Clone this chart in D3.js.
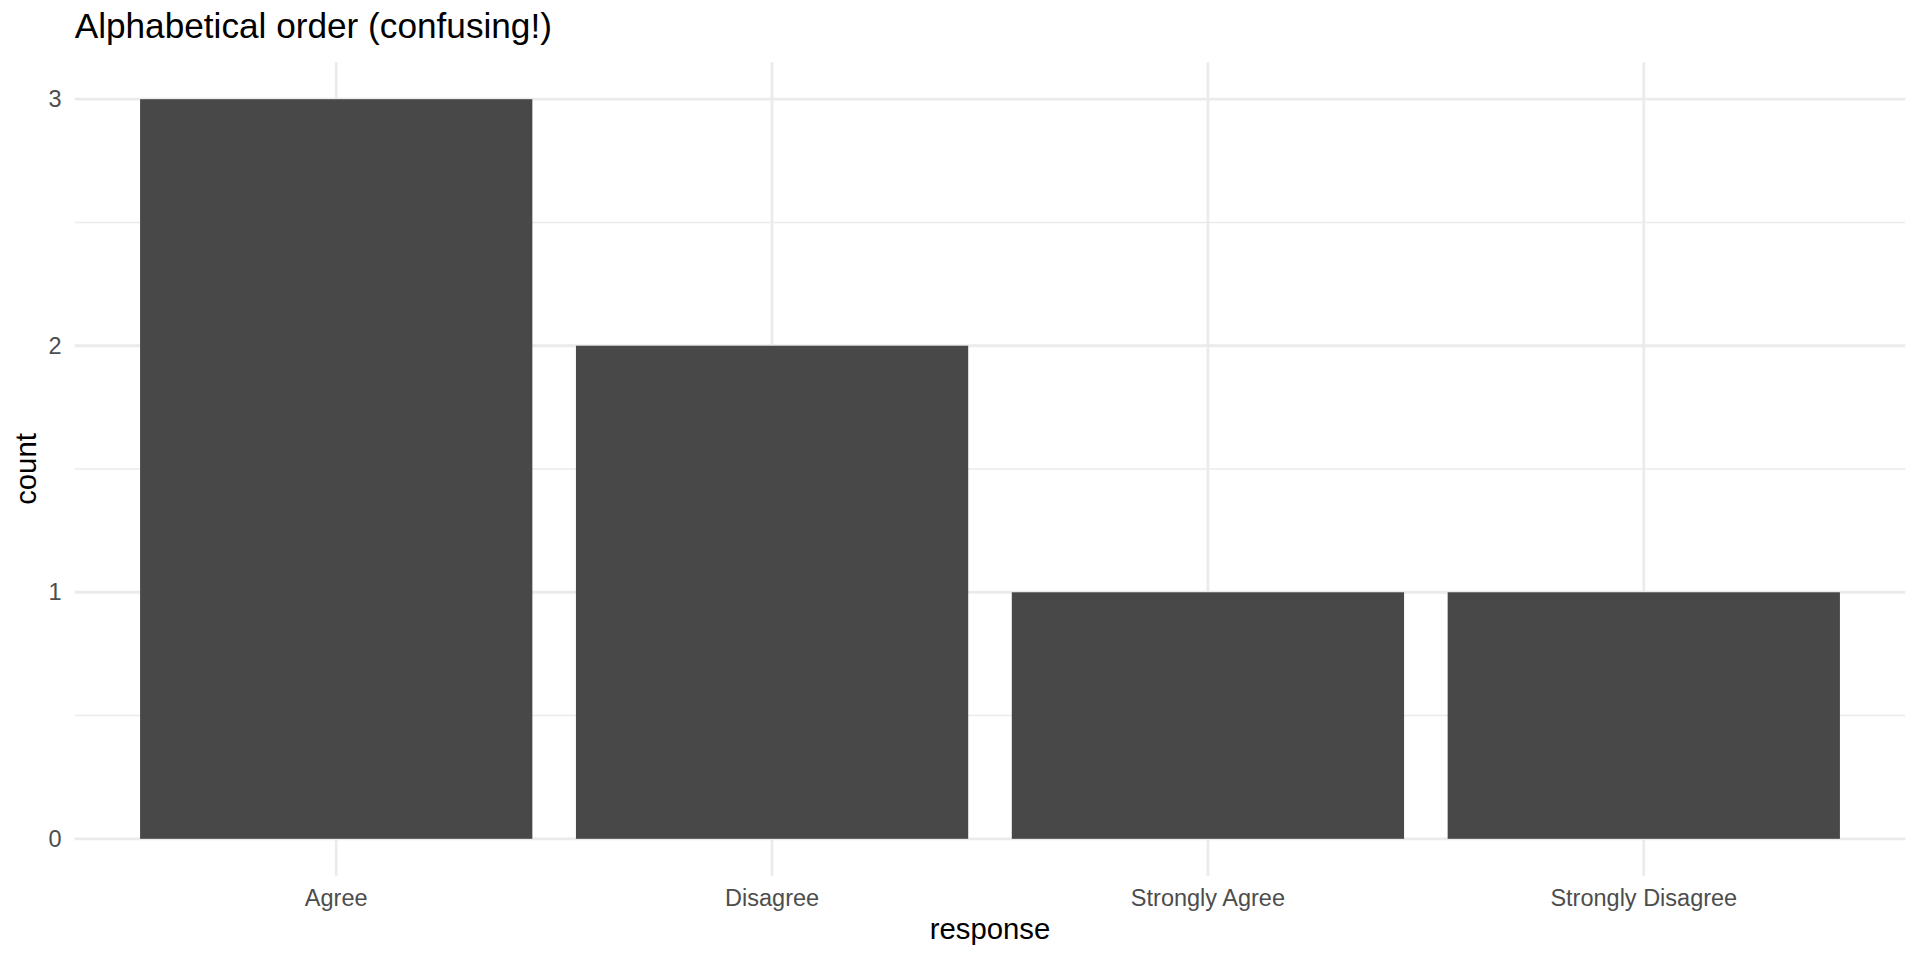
<!DOCTYPE html>
<html>
<head>
<meta charset="utf-8">
<script src="https://cdn.jsdelivr.net/npm/d3@7"></script>
<style>
  body { margin: 0; background: #fff; }
  text { font-family: "Liberation Sans", Arial, Helvetica, sans-serif; }
</style>
</head>
<body>
<script>
let responses = ['Agree', 'Disagree', 'Strongly Agree', 'Strongly Disagree']
let counts = [3, 2, 1, 1]
let majorTicks = [0, 1, 2, 3]
let minorTicks = [0.5, 1.5, 2.5]

let width = 1920,
  height = 960,
  panel = { left: 74.7, right: 1905.3, top: 62.2, bottom: 875.8 },
  gridColor = '#ebebeb'

let svg = d3.select('body').append('svg')
  .attr('width', width)
  .attr('height', height)

let scaleX = d3.scaleBand()
  .domain(responses)
  .range([panel.left, panel.right])
  .paddingInner(0.1)
  .paddingOuter(0.15)

let scaleY = d3.scaleLinear()
  .domain([-0.15, 3.15])
  .range([panel.bottom, panel.top])

// grid
svg.append('g').selectAll('line')
  .data(minorTicks)
  .enter()
  .append('line')
  .attr('x1', panel.left).attr('x2', panel.right)
  .attr('y1', d => scaleY(d)).attr('y2', d => scaleY(d))
  .attr('stroke', gridColor)
  .attr('stroke-width', 1.4)

svg.append('g').selectAll('line')
  .data(majorTicks)
  .enter()
  .append('line')
  .attr('x1', panel.left).attr('x2', panel.right)
  .attr('y1', d => scaleY(d)).attr('y2', d => scaleY(d))
  .attr('stroke', gridColor)
  .attr('stroke-width', 2.8)

svg.append('g').selectAll('line')
  .data(responses)
  .enter()
  .append('line')
  .attr('x1', d => scaleX(d) + scaleX.bandwidth() / 2)
  .attr('x2', d => scaleX(d) + scaleX.bandwidth() / 2)
  .attr('y1', panel.top).attr('y2', panel.bottom)
  .attr('stroke', gridColor)
  .attr('stroke-width', 2.8)

// bars
svg.append('g').selectAll('rect')
  .data(responses)
  .enter()
  .append('rect')
  .attr('x', d => scaleX(d))
  .attr('width', scaleX.bandwidth())
  .attr('y', (d, i) => scaleY(counts[i]))
  .attr('height', (d, i) => scaleY(0) - scaleY(counts[i]))
  .attr('fill', '#484848')

// axes
let axisX = d3.axisBottom(scaleX).tickSize(0).tickPadding(13.2)
let axisY = d3.axisLeft(scaleY).tickValues(majorTicks).tickSize(0).tickPadding(13.2)
  .tickFormat(d3.format('d'))

let gx = svg.append('g')
  .attr('transform', 'translate(0,' + panel.bottom + ')')
  .call(axisX)
let gy = svg.append('g')
  .attr('transform', 'translate(' + panel.left + ',0)')
  .call(axisY)

svg.selectAll('.domain').remove()
svg.selectAll('.tick text')
  .attr('font-family', '"Liberation Sans", Arial, sans-serif')
  .attr('font-size', 23.5)
  .attr('fill', '#4d4d4d')

// titles
svg.append('text')
  .attr('x', panel.left)
  .attr('y', 38)
  .attr('font-size', 35.2)
  .attr('fill', '#000')
  .text('Alphabetical order (confusing!)')

svg.append('text')
  .attr('x', (panel.left + panel.right) / 2)
  .attr('y', 939)
  .attr('text-anchor', 'middle')
  .attr('font-size', 29.3)
  .attr('fill', '#000')
  .text('response')

svg.append('text')
  .attr('transform', 'translate(36,' + (panel.top + panel.bottom) / 2 + ') rotate(-90)')
  .attr('text-anchor', 'middle')
  .attr('font-size', 29.3)
  .attr('fill', '#000')
  .text('count')
</script>
</body>
</html>
